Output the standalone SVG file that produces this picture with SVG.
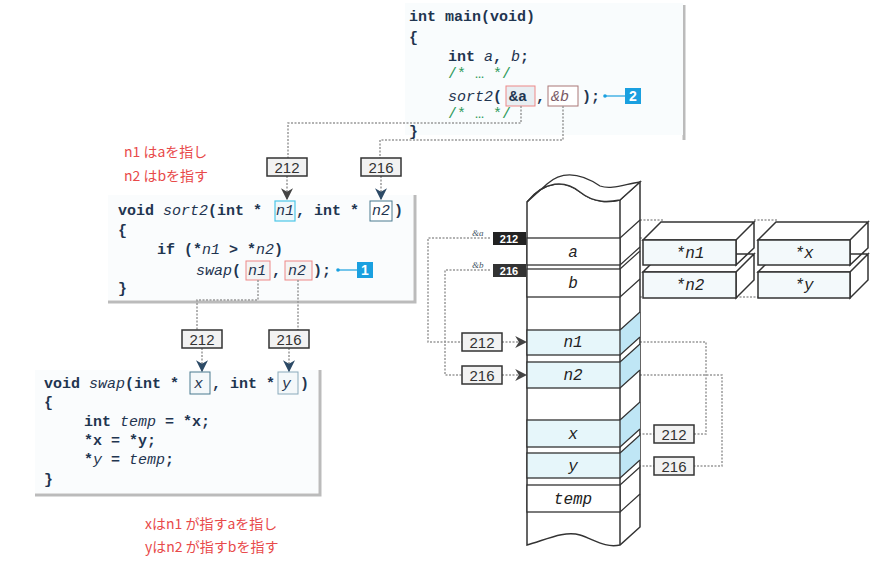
<svg xmlns="http://www.w3.org/2000/svg" width="875" height="567" viewBox="0 0 875 567">
<defs>
<marker id="ah" viewBox="0 0 10 10" refX="9" refY="5" markerWidth="8" markerHeight="8" orient="auto-start-reverse"><path d="M0,0 L10,5 L0,10 L3,5 Z" fill="#444"/></marker>
<marker id="ab" viewBox="0 0 10 10" refX="9" refY="5" markerWidth="8" markerHeight="8" orient="auto"><path d="M0,0 L10,5 L0,10 L3,5 Z" fill="#2c4a66"/></marker>
</defs>
<style>
.code{font-family:"Liberation Mono",monospace;font-size:15px;fill:#1f3550;font-weight:bold}
.it{font-style:italic;font-weight:normal}
.cm{fill:#2f9a5a;font-weight:normal}
.red{font-family:"Noto Sans CJK JP",sans-serif;font-size:14px;fill:#e84a4a}
.panel{fill:none;stroke:#bbb;stroke-width:3}
.box{fill:#f2f2f2;stroke:#333;stroke-width:1.5}
.num{font-family:"Liberation Sans",sans-serif;font-size:15px;fill:#333;text-anchor:middle}
.dot{fill:none;stroke:#999;stroke-width:1.5;stroke-dasharray:2,1.5}
.cell{fill:#fff;stroke:#333;stroke-width:1.3}
.hl{fill:#e6f6fa;stroke:#333;stroke-width:1.3}
.lab{font-family:"Liberation Mono",monospace;font-size:16px;fill:#222;text-anchor:middle;font-style:italic}
.badge{fill:#1aa0e0}
.bt{font-family:"Liberation Sans",sans-serif;font-size:14px;font-weight:bold;fill:#fff;text-anchor:middle}
</style>
<g id="panels">
<path class="panel" d="M684,5 V140 M108,302 H415 V195 M35,495 H320 V370"/>
<rect x="405" y="3" width="278" height="132" fill="#f9fcfd"/>
<rect x="108" y="195" width="305" height="105" fill="#fafcfd"/>
<rect x="35" y="370" width="283" height="123" fill="#fafcfd"/>
</g>
<g id="main">
<text class="code" x="409" y="21">int main(void)</text>
<text class="code" x="409" y="42">{</text>
<text class="code" x="448" y="61">int <tspan class="it">a</tspan>, <tspan class="it">b</tspan>;</text>
<text class="code cm" x="448" y="78">/* … */</text>
<rect x="506" y="86" width="29" height="20" fill="#e8eef2" stroke="#e88" stroke-width="1"/>
<rect x="548" y="86" width="30" height="20" fill="#fff" stroke="#a77" stroke-width="1"/>
<text class="code" x="448" y="101"><tspan class="it">sort2</tspan>(<tspan x="509">&amp;a</tspan><tspan x="536">,</tspan><tspan x="551" class="it" fill="#7a5a66">&amp;b</tspan><tspan x="582">);</tspan></text>
<text class="code cm" x="448" y="118">/* … */</text>
<text class="code" x="409" y="136">}</text>
<line x1="605" y1="96" x2="625" y2="96" stroke="#1aa0e0" stroke-width="1.2"/><circle cx="605" cy="96" r="1.8" fill="#1aa0e0"/>
<rect class="badge" x="625" y="88" width="16" height="16"/><text class="bt" x="633" y="101">2</text>
</g>
<g id="sort2">
<text class="red" x="124" y="157">n1 はaを指し</text>
<text class="red" x="124" y="181">n2 はbを指す</text>
<rect x="275" y="201" width="20" height="20" fill="#f0f8fb" stroke="#4cc7e8" stroke-width="1.2"/>
<rect x="370" y="201" width="22" height="20" fill="#fff" stroke="#4a7a90" stroke-width="1"/>
<text class="code" x="118" y="215">void <tspan class="it">sort2</tspan>(int *<tspan x="276" class="it">n1</tspan><tspan x="296">, int *</tspan><tspan x="372" class="it">n2</tspan><tspan x="394">)</tspan></text>
<text class="code" x="118" y="235">{</text>
<text class="code" x="157" y="254">if (*<tspan class="it">n1</tspan> &gt; *<tspan class="it">n2</tspan>)</text>
<rect x="246" y="261" width="24" height="19" fill="#f4f4f4" stroke="#e88" stroke-width="1"/>
<rect x="285" y="261" width="27" height="19" fill="#f4f4f4" stroke="#e88" stroke-width="1"/>
<text class="code" x="196" y="275"><tspan class="it">swap</tspan>(<tspan x="248" class="it">n1</tspan><tspan x="272">,</tspan><tspan x="288" class="it">n2</tspan><tspan x="313">);</tspan></text>
<text class="code" x="118" y="293">}</text>
<line x1="338" y1="270" x2="357" y2="270" stroke="#1aa0e0" stroke-width="1.2"/><circle cx="338" cy="270" r="1.8" fill="#1aa0e0"/>
<rect class="badge" x="357" y="262" width="16" height="16"/><text class="bt" x="365" y="275">1</text>
</g>
<g id="swap">
<rect x="190" y="372" width="20" height="22" fill="#f4f8fa" stroke="#4a7a90" stroke-width="1"/>
<rect x="278" y="372" width="20" height="22" fill="#f4f8fa" stroke="#8aaabb" stroke-width="1"/>
<text class="code" x="44" y="388">void <tspan class="it">swap</tspan>(int *<tspan x="194" class="it">x</tspan><tspan x="212">, int *</tspan><tspan x="282" class="it">y</tspan><tspan x="300">)</tspan></text>
<text class="code" x="44" y="407">{</text>
<text class="code" x="84" y="426">int <tspan class="it">temp</tspan> = *x;</text>
<text class="code" x="84" y="445">*x = *y;</text>
<text class="code" x="84" y="464">*<tspan class="it">y</tspan> = <tspan class="it">temp</tspan>;</text>
<text class="code" x="44" y="484">}</text>
<text class="red" x="145" y="529">xはn1 が指すaを指し</text>
<text class="red" x="145" y="552">yはn2 が指すbを指す</text>
</g>
<g id="connectors">
<path class="dot" d="M521,106 V123 H288 V158"/>
<path class="dot" d="M563,106 V140 H380 V158"/>
<path class="dot" d="M287,176 V199" marker-end="url(#ah)"/>
<path class="dot" d="M381,176 V199" marker-end="url(#ab)"/>
<path class="dot" d="M258,280 V300 H197 V330"/>
<path class="dot" d="M298,280 V330"/>
<path class="dot" d="M202,348 V371" marker-end="url(#ab)"/>
<path class="dot" d="M289,348 V371" marker-end="url(#ab)"/>
<path class="dot" d="M490,238 H428 V342 H463"/>
<path class="dot" d="M490,270 H445 V375 H463"/>
<path class="dot" d="M502,342 H526" marker-end="url(#ah)"/>
<path class="dot" d="M502,375 H526" marker-end="url(#ah)"/>
<path class="dot" d="M640,342 H706 V434 H693"/>
<path class="dot" d="M640,375 H722 V466 H693"/>
<path class="dot" d="M655,434 H622" marker-end="url(#ah)"/>
<path class="dot" d="M655,466 H622" marker-end="url(#ah)"/>
<path class="dot" d="M640,220 H663 M640,238 H643 M640,297 H643 M754,220 H778 M736,297 H758"/>
</g>
<g id="labels-addr">
<rect class="box" x="267" y="158" width="40" height="18"/><text class="num" x="287" y="173">212</text>
<rect class="box" x="361" y="158" width="40" height="18"/><text class="num" x="381" y="173">216</text>
<rect class="box" x="182" y="330" width="40" height="18"/><text class="num" x="202" y="345">212</text>
<rect class="box" x="269" y="330" width="40" height="18"/><text class="num" x="289" y="345">216</text>
<rect class="box" x="462" y="333" width="40" height="18"/><text class="num" x="482" y="348">212</text>
<rect class="box" x="462" y="366" width="40" height="18"/><text class="num" x="482" y="381">216</text>
<rect class="box" x="654" y="425" width="40" height="18"/><text class="num" x="674" y="440">212</text>
<rect class="box" x="654" y="457" width="40" height="18"/><text class="num" x="674" y="472">216</text>
<text x="472" y="236" font-family="Liberation Serif,serif" font-size="9" font-style="italic" fill="#456">&amp;a</text>
<text x="472" y="268" font-family="Liberation Serif,serif" font-size="9" font-style="italic" fill="#456">&amp;b</text>
<rect x="493" y="232" width="33" height="13" fill="#222"/><text x="509" y="243" font-family="Liberation Sans,sans-serif" font-size="11" font-weight="bold" fill="#fff" text-anchor="middle">212</text>
<rect x="493" y="264" width="33" height="13" fill="#333"/><text x="509" y="275" font-family="Liberation Sans,sans-serif" font-size="11" font-weight="bold" fill="#fff" text-anchor="middle">216</text>
</g>
<g id="memory">
<path d="M527,202 C545,180 565,180 580,192 C595,204 610,202 620,200 L640,182 L640,527 L620,545 C605,548 595,540 580,535 C565,530 545,540 527,545 Z" fill="#fff" stroke="#333" stroke-width="1.5"/>
<path d="M527,202 C545,180 565,180 580,192 C595,204 610,202 620,200 L640,182 C625,184 612,190 600,186 C585,176 565,168 547,184 Z" fill="#fff" stroke="#333" stroke-width="1.3"/>
<line x1="620" y1="200" x2="620" y2="545" stroke="#333" stroke-width="1.5"/>
<polygon points="620,330 640,312 640,337 620,355" fill="#bfe6f5"/>
<polygon points="620,362 640,344 640,370 620,388" fill="#bfe6f5"/>
<polygon points="620,420 640,402 640,429 620,447" fill="#bfe6f5"/>
<polygon points="620,453 640,435 640,460 620,478" fill="#bfe6f5"/>
<rect class="cell" x="527" y="238" width="93" height="27"/>
<rect class="cell" x="527" y="269" width="93" height="28"/>
<rect class="hl" x="527" y="330" width="93" height="25"/>
<rect class="hl" x="527" y="362" width="93" height="26"/>
<rect class="hl" x="527" y="420" width="93" height="27"/>
<rect class="hl" x="527" y="453" width="93" height="25"/>
<rect class="cell" x="527" y="485" width="93" height="27"/>
<path d="M620,238 L640,220 M620,265 L640,247 M620,269 L640,251 M620,297 L640,279 M620,330 L640,312 M620,355 L640,337 M620,362 L640,344 M620,388 L640,370 M620,420 L640,402 M620,447 L640,429 M620,453 L640,435 M620,478 L640,460 M620,485 L640,467 M620,512 L640,494" stroke="#333" stroke-width="1.2"/>
<text class="lab" x="573" y="257" font-style="normal">a</text>
<text class="lab" x="573" y="288">b</text>
<text class="lab" x="573" y="347">n1</text>
<text class="lab" x="573" y="380">n2</text>
<text class="lab" x="573" y="439">x</text>
<text class="lab" x="573" y="471">y</text>
<text class="lab" x="573" y="504">temp</text>
</g>
<g id="deref">
<g fill="#fff" stroke="#333" stroke-width="1.5">
<path d="M643,240 L661,222 H754 L736,240 Z M736,240 L754,222 V248 L736,265 Z M643,272 L661,254 H754 L736,272 Z M736,272 L754,254 V280 L736,298 Z"/>
<rect x="643" y="240" width="93" height="25" fill="#f3f9fb"/>
<rect x="643" y="272" width="93" height="26" fill="#f3f9fb"/>
<path d="M758,240 L776,222 H868 L850,240 Z M850,240 L868,222 V248 L850,265 Z M758,272 L776,254 H868 L850,272 Z M850,272 L868,254 V280 L850,298 Z"/>
<rect x="758" y="240" width="92" height="25" fill="#f3f9fb"/>
<rect x="758" y="272" width="92" height="26" fill="#f3f9fb"/>
</g>
<text class="lab" x="690" y="258" fill="#1f3550">*n1</text>
<text class="lab" x="690" y="290" fill="#1f3550">*n2</text>
<text class="lab" x="804" y="258" fill="#1f3550">*x</text>
<text class="lab" x="804" y="290" fill="#1f3550">*y</text>
</g>
</svg>
